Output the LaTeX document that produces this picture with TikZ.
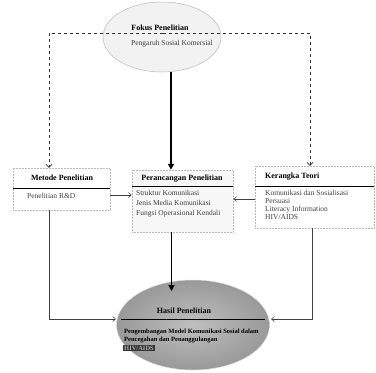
\documentclass[tikz,border=0pt]{standalone}
\usepackage{fontspec}
\setmainfont{Liberation Serif}
\usetikzlibrary{shapes,arrows.meta,positioning,calc}

\begin{document}
\begin{tikzpicture}[x=1pt, y=-1pt,
      every node/.style={inner sep=0pt, font=\fontsize{7.5}{8}\selectfont, text=black!75},
      oval/.style={ellipse, draw=gray!55, line width=0.5pt},
      box/.style={rectangle, draw=gray!55, densely dotted, line width=0.5pt, fill=white},
      title/.style={font=\bfseries\fontsize{8}{9}\selectfont, text=black},
      body/.style={align=left},
      sepline/.style={line width=1pt, black},
      dashlink/.style={dashed, dash pattern=on 3pt off 3pt, gray!40!black, line width=0.6pt, -{Straight Barb[length=3pt,width=6pt]}},
      thinlink/.style={gray!50!black, line width=0.5pt, -{Straight Barb[length=3pt,width=5pt]}},
      mainarrow/.style={line width=1.8pt, black, -{Triangle[length=6pt,width=6pt]}}
    ]
      \useasboundingbox (0,0) rectangle (376,373);
      % fokus
      \node[oval, fill=blue!5!gray!10, minimum width=118, minimum height=70] (fokus) at (162,37) {};
      \node[title] (fokusT) at (160,28) {Fokus Penelitian};
      \node[body] (fokusB) at (172,44) {Pengaruh Sosial Komersial};
      % kotak
      \node[box, minimum width=97, minimum height=42] (metode) at (61.5,189) {};
      \node[title] (metodeT) at (62,178) {Metode Penelitian};
      \draw[sepline] ([yshift=-21pt]metode.north west) -- ([yshift=-21pt]metode.north east);
      \node[body, anchor=west] (metodeB) at (27,196) {Penelitian R\&D};

      \node[box, fill=gray!6, minimum width=101, minimum height=62] (rancang) at (182.5,201) {};
      \node[title] (rancangT) at (182,179) {Perancangan Penelitian};
      \draw[sepline] ([yshift=-17pt]rancang.north west) -- ([yshift=-17pt]rancang.north east);
      \node[body, anchor=north west, font=\fontsize{7.5}{10}\selectfont] (rancangB) at (136,190.5)
        {Struktur Komunikasi\\Jenis Media Komunikasi\\Fungsi Operasional Kendali};

      \node[box, minimum width=119, minimum height=62] (kerangka) at (314.5,197) {};
      \node[title, anchor=west] (kerangkaT) at (265,177) {Kerangka Teori};
      \draw[sepline] ([yshift=-21pt]kerangka.north west) -- ([yshift=-21pt]kerangka.north east);
      \node[body, anchor=north west, font=\fontsize{7.5}{8}\selectfont] (kerangkaB) at (265,190.5)
        {Komunikasi dan Sosialisasi\\Persuasi\\Literacy Information\\HIV/AIDS};
      % hasil
      \node[oval, draw=gray!30, inner color=gray!50, outer color=gray!80, minimum width=153, minimum height=90] (hasil) at (193,325) {};
      \node[title] (hasilT) at (184,311) {Hasil Penelitian};
      \draw[sepline] ($(hasil.center)+(-72,-6)$) -- ($(hasil.center)+(72,-6)$);
      \node[body, anchor=north west, font=\bfseries\fontsize{6.5}{8}\selectfont, text=black] (hasilB) at (124,329)
        {Pengembangan Model Komunikasi Sosial dalam\\Pencegahan dan Penanggulangan};
      \node[anchor=north west, fill=black!80, font=\bfseries\fontsize{6.5}{8}\selectfont, text=gray!60, inner sep=1pt] (hasilC) at (123,344.5) {HIV/AIDS};

      % penghubung
      \coordinate (fokuslink) at (163,33);
      \coordinate (mtop) at ([xshift=-12.5pt]metode.north);
      \coordinate (ktop) at ([xshift=-4.5pt]kerangka.north);
      \coordinate (mbot) at ([xshift=-12.5pt]metode.south);
      \coordinate (kbot) at ([xshift=-2.5pt]kerangka.south);
      \coordinate (rtop) at ([xshift=-11.5pt]rancang.north);
      \coordinate (rbot) at ([xshift=-11pt]rancang.south);
      \coordinate (hasilL) at (116,319);
      \coordinate (hasilR) at (271,319);
      \coordinate (hasilin) at (171.5,291);

      \draw[dashlink] (fokuslink) -| (mtop);
      \draw[dashlink] (fokuslink) -| (ktop);
      \draw[mainarrow] (rtop |- fokus.south) -- (rtop);
      \draw[thinlink] ([yshift=-6pt]metode.east) -- ([yshift=-6pt]metode.east -| rancang.west);
      \draw[thinlink] ([yshift=-2pt]kerangka.west) -- ([yshift=-2pt]kerangka.west -| rancang.east);
      \draw[mainarrow] (rbot) -- (hasilin);
      \draw[thinlink] (mbot) |- (hasilL);
      \draw[thinlink] (kbot) |- (hasilR);
    \end{tikzpicture}
\end{document}
